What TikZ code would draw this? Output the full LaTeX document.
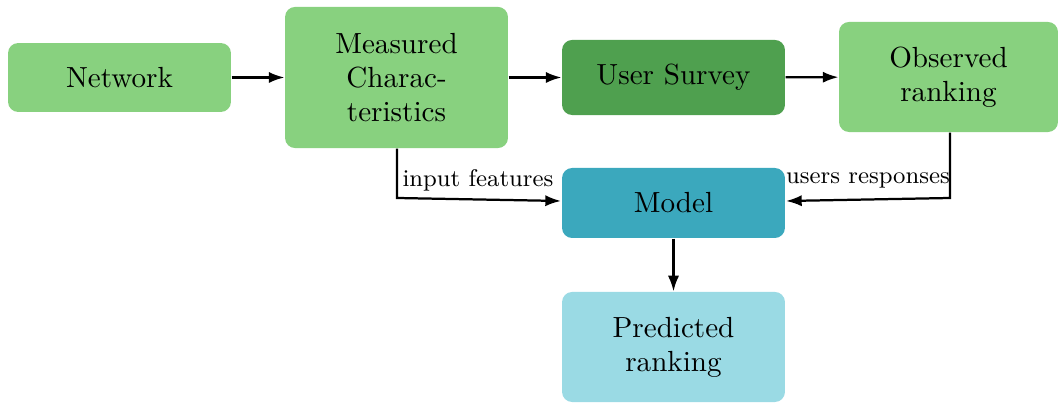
\documentclass[tikz,border=0pt]{standalone}
\usetikzlibrary{arrows.meta}
\definecolor{lgreen}{HTML}{88D17F}
\definecolor{dgreen}{HTML}{4FA04F}
\definecolor{teal2}{HTML}{3BA8BD}
\definecolor{lblue}{HTML}{9ADAE4}
\begin{document}
\begin{tikzpicture}[x=0.3571pt,y=-0.3571pt,
  box/.style={rounded corners=3.6pt,inner sep=0pt,align=center,minimum width=79.6pt,font=\fontsize{10.4}{12.2}\selectfont},
  conn/.style={-{Latex[length=5.6pt,width=4pt]},thick},
  lab/.style={font=\fontsize{8.6}{10}\selectfont,inner sep=0pt}]
\useasboundingbox (0,0) rectangle (1058,403);
\node[box,fill=lgreen,minimum height=24.6pt] (net) at (119.5,77.5) {Network};
\node[box,fill=lgreen,minimum height=50.4pt] (meas) at (396.5,77.5) {Measured\\Charac-\\teristics};
\node[box,fill=dgreen,minimum height=26.8pt] (surv) at (673.5,77.5) {User Survey};
\node[box,fill=lgreen,minimum height=39.3pt,minimum width=78.2pt] (obs) at (948.5,77) {Observed\\ranking};
\node[box,fill=teal2,minimum height=25pt] (model) at (673.5,203) {Model};
\node[box,fill=lblue,minimum height=39.3pt] (pred) at (673.5,347) {Predicted\\ranking};
\coordinate (c1) at (397,198);
\coordinate (c2) at (950,198);
\coordinate (m1) at (561,201);
\coordinate (m2) at (786,201);
\draw[conn] (net) -- (meas);
\draw[conn] (meas) -- (surv);
\draw[conn] (surv) -- (obs);
\draw[conn] (meas.south -| c1) -- (c1) -- (m1);
\draw[conn] (obs.south -| c2) -- (c2) -- (m2);
\draw[conn] (model) -- (pred);
\node[lab] (l1) at (478,180) {input features};
\node[lab] (l2) at (868,180) {users responses};
\end{tikzpicture}
\end{document}
